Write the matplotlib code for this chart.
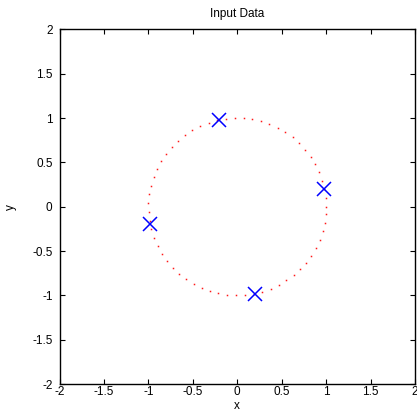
import matplotlib
matplotlib.use("Agg")
import matplotlib.pyplot as plt

circle_x = [1.000, 0.995, 0.980, 0.955, 0.921, 0.878, 0.825, 0.765, 0.697, 0.622,
            0.540, 0.454, 0.362, 0.267, 0.170, 0.071, -0.029, -0.129, -0.227, -0.323,
            -0.416, -0.505, -0.589, -0.666, -0.737, -0.801, -0.857, -0.904, -0.942, -0.971,
            -0.990, -0.999, -0.998, -0.987, -0.967, -0.936, -0.897, -0.848, -0.791, -0.726,
            -0.654, -0.575, -0.490, -0.401, -0.307, -0.211, -0.112, -0.012, 0.087, 0.187,
            0.284, 0.378, 0.469, 0.554, 0.635, 0.709, 0.776, 0.835, 0.886, 0.927,
            0.960, 0.983, 0.997]
circle_y = [0.000, 0.100, 0.199, 0.296, 0.389, 0.479, 0.565, 0.644, 0.717, 0.783,
            0.841, 0.891, 0.932, 0.964, 0.985, 0.997, 1.000, 0.992, 0.974, 0.946,
            0.909, 0.863, 0.808, 0.746, 0.675, 0.598, 0.516, 0.427, 0.335, 0.239,
            0.141, 0.042, -0.058, -0.158, -0.256, -0.351, -0.443, -0.530, -0.612, -0.688,
            -0.757, -0.818, -0.872, -0.916, -0.952, -0.978, -0.994, -1.000, -0.996, -0.982,
            -0.959, -0.926, -0.883, -0.832, -0.773, -0.706, -0.631, -0.551, -0.465, -0.374,
            -0.279, -0.182, -0.083]

# the four input points (blue crosses)
pts_x = [-0.2, 0.98, 0.2, -0.98]
pts_y = [0.98, 0.2, -0.98, -0.2]

ticks = [-2, -1.5, -1, -0.5, 0, 0.5, 1, 1.5, 2]
tick_labels = ["-2", "-1.5", "-1", "-0.5", "0", "0.5", "1", "1.5", "2"]

plt.rcParams["font.family"] = ["Liberation Sans", "DejaVu Sans"]
plt.rcParams["font.size"] = 8.5

fig = plt.figure(figsize=(4.17, 4.19), dpi=100)
ax = fig.add_axes([0.1427, 0.0835, 0.8525, 0.8461])

ax.plot(circle_x, circle_y, linestyle="none", marker="s", markersize=1.1,
        markeredgewidth=0, color="#ff0000", alpha=0.9)
ax.plot(pts_x, pts_y, linestyle="none", marker="x", markersize=10,
        markeredgewidth=1.1, color="#0000ff")

ax.set_xlim(-2, 2)
ax.set_ylim(-2, 2)
ax.set_xticks(ticks, tick_labels)
ax.set_yticks(ticks, tick_labels)
ax.tick_params(direction="in", length=3.6, width=0.8, top=True, right=True)
ax.tick_params(axis="x", pad=1.5)
ax.tick_params(axis="y", pad=5)
for s in ax.spines.values():
    s.set_linewidth(1.0)

ax.set_title("Input Data", fontsize=8.5, pad=9)
ax.set_xlabel("x")
ax.set_ylabel("y")
ax.xaxis.set_label_coords(0.5, -0.045)
ax.yaxis.set_label_coords(-0.12, 0.5)

fig.savefig("out.png", dpi=100)
